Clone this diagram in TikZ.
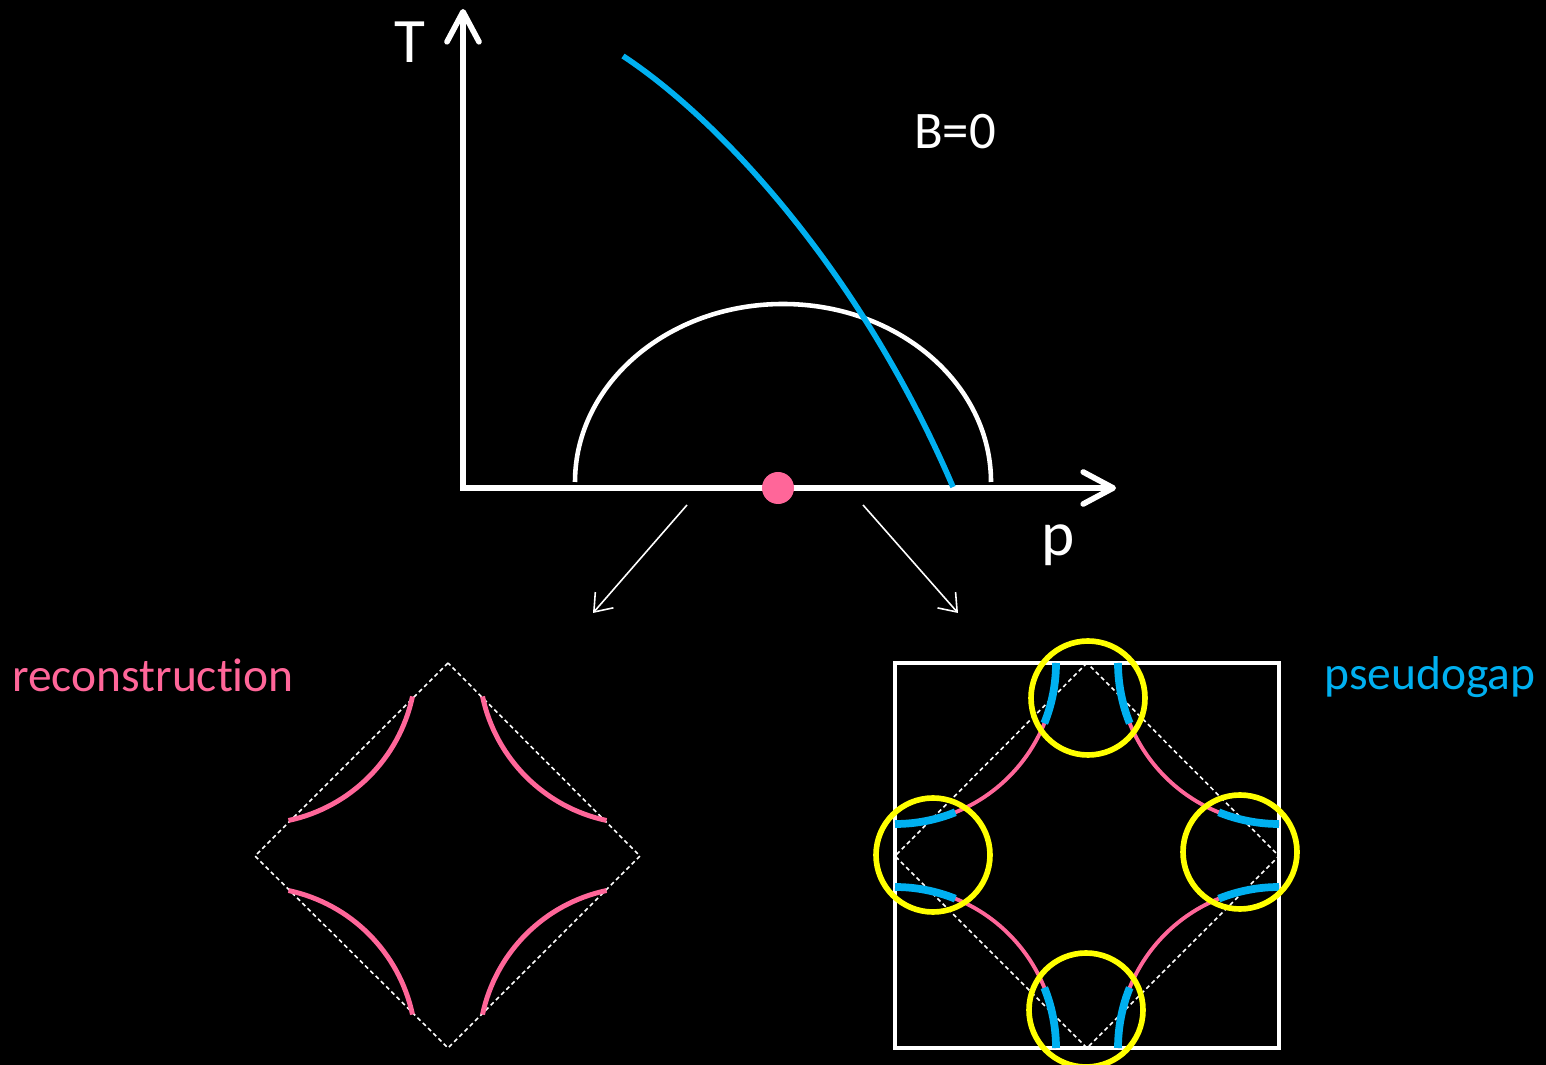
\documentclass[tikz,border=0pt]{standalone}
\usepackage{fontspec}
\setmainfont{Carlito}[Ligatures={NoCommon,NoContextual}]
\usepackage{tikz}
\usetikzlibrary{arrows.meta}
\definecolor{pgblue}{HTML}{00B0F0}
\definecolor{rcpink}{HTML}{FF6699}
\definecolor{hotyellow}{HTML}{FFFF00}
\tikzset{
    axisline/.style={white, line width=1.6pt, <->, >={Straight Barb[length=3mm, width=3.2mm, round]}},
    axislabel/.style={text=white, font=\fontsize{18}{20}\selectfont},
    pointer/.style={white, line width=0.45pt, ->, >={Straight Barb[length=1.6mm, width=2.4mm]}},
    bzdash/.style={white, line width=0.45pt, dash pattern=on 1.2pt off 0.9pt},
    pocket/.style={rcpink, line width=1.4pt},
    thinpocket/.style={rcpink, line width=1.1pt},
    gapped/.style={pgblue, line width=2.2pt},
    hotspot/.style={hotyellow, line width=1.6pt}
}
\begin{document}
\begin{tikzpicture}[x=0.01cm, y=-0.01cm]  % one unit = one pixel, y down
    % Black page, fixes the size
    \fill[black] (0,0) rectangle (1546,1065);
    \useasboundingbox (0,0) rectangle (1546,1065);
    % Axes of the phase diagram
    \coordinate (origin) at (463,488);
    \coordinate (Ttip) at (463,9);
    \coordinate (ptip) at (1116,488);
    \draw[axisline] (Ttip) -- (origin) -- (ptip);
    \node[axislabel] (Tlabel) at (410,42) {T};
    \node[axislabel] (plabel) at (1058,545) {p};
    \node[axislabel, font=\fontsize{15}{17}\selectfont] (Blabel) at (955,132) {B=0};
    % Superconducting dome
    \draw[white, line width=1.3pt] (575,482) arc[start angle=180, end angle=360, x radius=208, y radius=178];
    % Pseudogap line T*
    \coordinate (Tstar-top) at (623,56);
    \coordinate (Tstar-end) at (953,487);
    \draw[pgblue, line width=1.6pt] (Tstar-top) .. controls (720,120) and (860,270) .. (Tstar-end);
    % Critical point
    \node[circle, fill=rcpink, inner sep=0pt, minimum size=0.32cm] (qcp) at (778,488) {};
    % Arrows down to the Fermi surfaces
    \coordinate (lfrom) at (687,505);
    \coordinate (lto) at (593,613);
    \coordinate (rfrom) at (863,505);
    \coordinate (rto) at (958,613);
    \draw[pointer] (lfrom) -- (lto);
    \draw[pointer] (rfrom) -- (rto);
    % Left: reconstructed Fermi surface
    \node[text=rcpink, font=\fontsize{13.5}{15}\selectfont] (rclabel) at (153,675) {reconstruction};
    \draw[bzdash] (448,663) -- (255,856) -- (448,1048) -- (640,856) -- cycle;
    \foreach \cx/\cy/\a in {255/663/0, 640/663/90, 640/1048/180, 255/1048/270} {
        \draw[pocket] (\cx,\cy) ++(\a+12:161) arc[start angle=\a+12, end angle=\a+78, radius=161];
    }
    % Right: pseudogap Fermi arcs
    \node[text=pgblue, font=\fontsize{13.5}{15}\selectfont] (pglabel) at (1430,677) {pseudogap};
    \draw[white, line width=1.1pt] (895,663) rectangle (1279,1048);
    \draw[bzdash] (1087,663) -- (895,856) -- (1087,1048) -- (1279,856) -- cycle;
    \foreach \cx/\cy/\a in {895/663/0, 1279/663/90, 1279/1048/180, 895/1048/270} {
        \draw[thinpocket] (\cx,\cy) ++(\a:161) arc[start angle=\a, end angle=\a+90, radius=161];
        \draw[gapped] (\cx,\cy) ++(\a:161) arc[start angle=\a, end angle=\a+22, radius=161];
        \draw[gapped] (\cx,\cy) ++(\a+68:161) arc[start angle=\a+68, end angle=\a+90, radius=161];
    }
    % Hot spots
    \foreach \x/\y in {1088/698, 933/855, 1240/852, 1086/1010} {
        \draw[hotspot] (\x,\y) circle[radius=57];
    }
\end{tikzpicture}
\end{document}
